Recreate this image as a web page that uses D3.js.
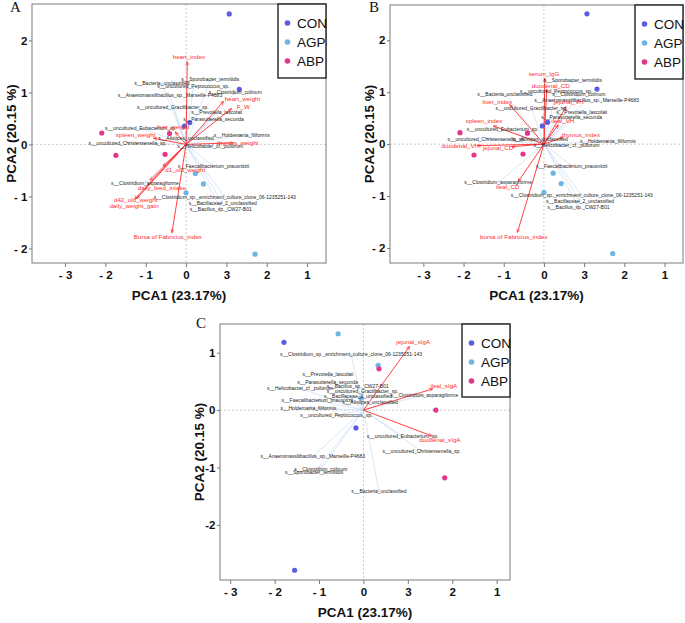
<!DOCTYPE html>
<html><head><meta charset="utf-8">
<script src="https://cdn.jsdelivr.net/npm/d3@7"></script>
<style>body{margin:0;background:#fff} svg{display:block}</style>
</head><body><svg id="c" width="685" height="623"></svg>
<script>
// ---------------- DATA ----------------
const groups = ["CON", "AGP", "ABP"];
const xTickValues = [-3, -2, -1, 0, 1, 2, 3];
const xTickLabels = ["- 3", "- 2", "- 1", "0", "3", "2", "1"];
const yTickValuesAB = [-2, -1, 0, 1, 2];
const yTickLabelsAB = ["- 2", "- 1", "0", "1", "2"];
const yTickValuesC = [-2, -1, 0, 1];
const yTickLabelsC = ["-2", "-1", "0", "1"];
const xTitle = "PCA1 (23.17%)";
const yTitle = "PCA2 (20.15 %)";

// samples, panels A and B
const sampleGroupAB = ["CON","CON","CON","CON","AGP","AGP","AGP","AGP","ABP","ABP","ABP","ABP"];
const sampleXAB = [1.07, 1.32, 0.09, -0.04, 0.23, 0.43, 0.00, 1.71, -2.09, -1.74, -0.52, -0.41];
const sampleYAB = [2.51, 1.06, 0.42, 0.35, -0.56, -0.76, -0.93, -2.11, 0.22, -0.21, -0.19, 0.21];
// samples, panel C
const sampleGroupC = ["CON","CON","CON","AGP","AGP","AGP","ABP","ABP","ABP"];
const sampleXC = [-1.79, -0.17, -1.55, -0.57, 0.33, -0.05, 0.35, 1.63, 1.83];
const sampleYC = [1.18, -0.31, -2.79, 1.33, 0.78, 0.21, 0.72, 0.00, -1.18];

// species loadings
const speciesNames = [
  "s__Sporobacter_termitidis", "s__Bacteria_unclassified", "s__uncultured_Peptococcus_sp.",
  "s__Clostridium_colinum", "s__Anaeromassilibacillus_sp._Marseille-P4683", "s__uncultured_Gracilibacter_sp.",
  "s__Prevotella_lascolaii", "s__Parasutterella_secunda", "s__uncultured_Eubacterium_sp.",
  "s__Holdemania_filiformis", "s__Alistipes_unclassified", "s__uncultured_Christensenella_sp.",
  "s__Helicobacter_cf._pullorum", "s__Faecalibacterium_prausnitzii", "s__Clostridium_asparagiforme",
  "s__Clostridium_sp._enrichment_culture_clone_06-1235251-143", "s__Bacillaceae_2_unclassified", "s__Bacillus_sp._CW27-B01"
];
const speciesXA = [0.60, -0.60, 0.18, 1.22, -0.40, -0.33, 0.76, 0.68, -1.12, 1.38, 0.00, -1.45, 0.60, 0.68, -1.02, 0.96, 0.91, 0.86];
const speciesYA = [1.25, 1.17, 1.11, 1.00, 0.95, 0.72, 0.61, 0.49, 0.31, 0.18, 0.11, 0.03, -0.03, -0.42, -0.74, -1.01, -1.13, -1.24];
const speciesXB = [0.72, -0.97, 0.30, 0.87, 1.06, -0.31, 0.94, 0.69, -1.03, 1.59, -0.10, -1.43, 0.56, 0.69, -1.14, 0.94, 0.90, 0.86];
const speciesYB = [1.23, 0.96, 1.01, 0.96, 0.85, 0.70, 0.62, 0.52, 0.29, 0.06, 0.10, 0.10, -0.03, -0.42, -0.74, -0.99, -1.10, -1.21];
const speciesXC = [-1.11, 0.35, -0.61, -0.96, -1.14, -0.02, -0.80, -0.81, 0.88, -1.24, 0.15, 1.31, -1.43, -1.04, 1.37, -0.28, -0.12, -0.13];
const speciesYC = [-1.09, -1.42, -0.09, -1.03, -0.81, 0.33, 0.62, 0.49, -0.45, 0.04, 0.14, -0.72, 0.38, 0.17, 0.26, 0.98, 0.24, 0.41];

// environmental / phenotype vectors
const envNamesA = ["heart_index","heart_weight","F_W","thymus_weight","liver_weight","spleen_weight","d1_old_weight","daily_feed_intake","d42_old_weight","daily_weight_gain","Bursa of Fabricius_index"];
const envTipXA = [0.03, 0.93, 1.13, 1.17, -0.27, -0.81, -0.57, -0.89, -1.22, -1.27, -0.35];
const envTipYA = [1.59, 0.83, 0.69, 0.03, 0.24, 0.12, -0.42, -0.69, -1.04, -1.05, -1.70];
const envLabXA = [0.07, 1.40, 1.42, 1.28, -0.32, -1.25, -0.02, -0.60, -1.25, -1.29, -0.45];
const envLabYA = [1.68, 0.88, 0.72, 0.03, 0.33, 0.18, -0.48, -0.83, -1.07, -1.19, -1.78];

const envNamesB = ["serum_IgG","duodenal_CD","jejunal_VH","ileal_VH","thymus_index","liver_index","spleen_index","duodenal_VH","jejunal_CD","ileal_CD","bursa of Fabricius_index"];
const envTipXB = [0.02, 0.07, 0.55, 0.36, 0.48, -0.85, -1.26, -1.65, -0.80, -0.64, -0.66];
const envTipYB = [1.27, 1.06, 0.72, 0.37, 0.13, 0.76, 0.35, -0.03, -0.05, -0.72, -1.70];
const envLabXB = [0.00, 0.17, 0.62, 0.47, 0.92, -1.16, -1.49, -2.08, -1.14, -0.90, -0.75];
const envLabYB = [1.35, 1.12, 0.82, 0.45, 0.18, 0.81, 0.45, -0.03, -0.08, -0.83, -1.79];

const envNamesC = ["jejunal_sIgA","ileal_sIgA","duodenal_sIgA"];
const envTipXC = [1.04, 1.56, 1.54];
const envTipYC = [1.11, 0.37, -0.45];
const envLabXC = [1.12, 1.81, 1.72];
const envLabYC = [1.19, 0.42, -0.52];

// ---------------- STYLE / LAYOUT ----------------
const groupColors = {CON: "#5c5ce0", AGP: "#6db5e4", ABP: "#e2358c"};
const red = "#ff2b2b";
const speciesLine = "#c3d7f2";
const narrow = "'Liberation Sans Narrow','Arial Narrow',sans-serif";
const sans = "'Liberation Sans',Arial,sans-serif";

const svg = d3.select("#c");
const defs = svg.append("defs");
function marker(id, color, size) {
  defs.append("marker").attr("id", id).attr("viewBox", "0 0 10 10")
    .attr("refX", 9).attr("refY", 5).attr("markerUnits", "userSpaceOnUse")
    .attr("markerWidth", size).attr("markerHeight", size).attr("orient", "auto")
    .append("path").attr("d", "M0,1 L9,5 L0,9").attr("fill", "none")
    .attr("stroke", color).attr("stroke-width", 1.6);
}
marker("arR", red, 4);
marker("arB", "#aac6ee", 3);

const panels = [
  {letter: "A", lx: 10, ly: 12, left: 32, top: 4, right: 326, bottom: 263,
   xd: [-3.82, 3.47], yd: [-2.28, 2.70], yv: yTickValuesAB, yl: yTickLabelsAB,
   sg: sampleGroupAB, sx: sampleXAB, sy: sampleYAB, spx: speciesXA, spy: speciesYA,
   en: envNamesA, etx: envTipXA, ety: envTipYA, elx: envLabXA, ely: envLabYA,
   legend: {x: 278, y: 4, w: 48, h: 74}},
  {letter: "B", lx: 369, ly: 12, left: 390, top: 5, right: 683, bottom: 263,
   xd: [-3.83, 3.46], yd: [-2.29, 2.68], yv: yTickValuesAB, yl: yTickLabelsAB,
   sg: sampleGroupAB, sx: sampleXAB, sy: sampleYAB, spx: speciesXB, spy: speciesYB,
   en: envNamesB, etx: envTipXB, ety: envTipYB, elx: envLabXB, ely: envLabYB,
   legend: {x: 635, y: 5, w: 48, h: 74}},
  {letter: "C", lx: 196, ly: 328, left: 220, top: 324, right: 510, bottom: 580,
   xd: [-3.23, 3.30], yd: [-2.96, 1.50], yv: yTickValuesC, yl: yTickLabelsC,
   sg: sampleGroupC, sx: sampleXC, sy: sampleYC, spx: speciesXC, spy: speciesYC,
   en: envNamesC, etx: envTipXC, ety: envTipYC, elx: envLabXC, ely: envLabYC,
   legend: {x: 462, y: 324, w: 48, h: 73}}
];

panels.forEach(p => {
  const g = svg.append("g");
  const x = d3.scaleLinear().domain(p.xd).range([p.left, p.right]);
  const y = d3.scaleLinear().domain(p.yd).range([p.bottom, p.top]);

  // dashed zero lines
  g.append("line").attr("x1", x(0)).attr("x2", x(0)).attr("y1", p.top).attr("y2", p.bottom)
    .attr("stroke", "#b5b5b5").attr("stroke-width", 0.7).attr("stroke-dasharray", "2,2");
  g.append("line").attr("x1", p.left).attr("x2", p.right).attr("y1", y(0)).attr("y2", y(0))
    .attr("stroke", "#b5b5b5").attr("stroke-width", 0.7).attr("stroke-dasharray", "2,2");

  // axes
  const xa = g.append("g").attr("transform", `translate(0,${p.bottom})`)
    .call(d3.axisBottom(x).tickValues(xTickValues).tickFormat((d, i) => xTickLabels[i]).tickSize(4).tickSizeOuter(0).tickPadding(3.5));
  const ya = g.append("g").attr("transform", `translate(${p.left},0)`)
    .call(d3.axisLeft(y).tickValues(p.yv).tickFormat((d, i) => p.yl[i]).tickSize(3).tickSizeOuter(0).tickPadding(1.5));
  [xa, ya].forEach(a => {
    a.select(".domain").remove();
    a.selectAll(".tick line").attr("stroke", "#7a7a7a");
    a.selectAll("text").attr("font-family", sans).attr("font-weight", "bold")
      .attr("font-size", 11.5).attr("fill", "#111");
  });
  // frame
  g.append("rect").attr("x", p.left).attr("y", p.top).attr("width", p.right - p.left)
    .attr("height", p.bottom - p.top).attr("fill", "none").attr("stroke", "#7a7a7a").attr("stroke-width", 1);

  // titles
  g.append("text").attr("x", (p.left + p.right) / 2).attr("y", p.bottom + 37)
    .attr("text-anchor", "middle").attr("font-family", sans).attr("font-weight", "bold")
    .attr("font-size", 13.5).attr("fill", "#111").text(xTitle);
  g.append("text").attr("transform", `translate(${p.left - 16},${(p.top + p.bottom) / 2}) rotate(-90)`)
    .attr("text-anchor", "middle").attr("font-family", sans).attr("font-weight", "bold")
    .attr("font-size", 13.5).attr("fill", "#111").text(yTitle);
  g.append("text").attr("x", p.lx).attr("y", p.ly).attr("font-family", "'Liberation Serif','Times New Roman',serif")
    .attr("font-size", 15).attr("fill", "#111").text(p.letter);

  // species vectors
  const sp = speciesNames.map((n, i) => ({n, x: p.spx[i], y: p.spy[i]}));
  g.append("g").selectAll("line").data(sp).join("line")
    .attr("x1", x(0)).attr("y1", y(0)).attr("x2", d => x(d.x)).attr("y2", d => y(d.y))
    .attr("stroke", speciesLine).attr("stroke-width", 0.6).attr("marker-end", "url(#arB)");

  // env vectors
  const ev = p.en.map((n, i) => ({n, tx: p.etx[i], ty: p.ety[i], lx: p.elx[i], ly: p.ely[i]}));
  g.append("g").selectAll("line").data(ev).join("line")
    .attr("x1", x(0)).attr("y1", y(0)).attr("x2", d => x(d.tx)).attr("y2", d => y(d.ty))
    .attr("stroke", red).attr("stroke-width", 0.9).attr("marker-end", "url(#arR)");

  // points
  const pts = p.sg.map((gr, i) => ({gr, x: p.sx[i], y: p.sy[i]}));
  g.append("g").selectAll("circle").data(pts).join("circle")
    .attr("cx", d => x(d.x)).attr("cy", d => y(d.y)).attr("r", 2.6)
    .attr("fill", d => groupColors[d.gr]);

  // species labels
  g.append("g").selectAll("text").data(sp).join("text")
    .attr("x", d => x(d.x)).attr("y", d => y(d.y)).attr("dy", "0.35em")
    .attr("text-anchor", "middle").attr("font-family", narrow).attr("font-size", 5)
    .attr("fill", "#222").text(d => d.n);
  // env labels
  g.append("g").selectAll("text").data(ev).join("text")
    .attr("x", d => x(d.lx)).attr("y", d => y(d.ly)).attr("dy", "0.35em")
    .attr("text-anchor", "middle").attr("font-family", narrow).attr("font-size", 6.2)
    .attr("fill", red).text(d => d.n);

  // legend
  const L = p.legend;
  const lg = g.append("g");
  lg.append("rect").attr("x", L.x).attr("y", L.y).attr("width", L.w).attr("height", L.h)
    .attr("fill", "#fff").attr("stroke", "#111").attr("stroke-width", 1.3);
  const ly = d3.scalePoint().domain(groups).range([L.y + 19, L.y + 57]);
  lg.selectAll("circle").data(groups).join("circle")
    .attr("cx", L.x + 9.5).attr("cy", d => ly(d)).attr("r", 2.8).attr("fill", d => groupColors[d]);
  lg.selectAll("text").data(groups).join("text")
    .attr("x", L.x + 19).attr("y", d => ly(d)).attr("dy", "0.36em")
    .attr("font-family", narrow).attr("font-size", 13.5).attr("fill", "#111").text(d => d);
});
</script></body></html>
